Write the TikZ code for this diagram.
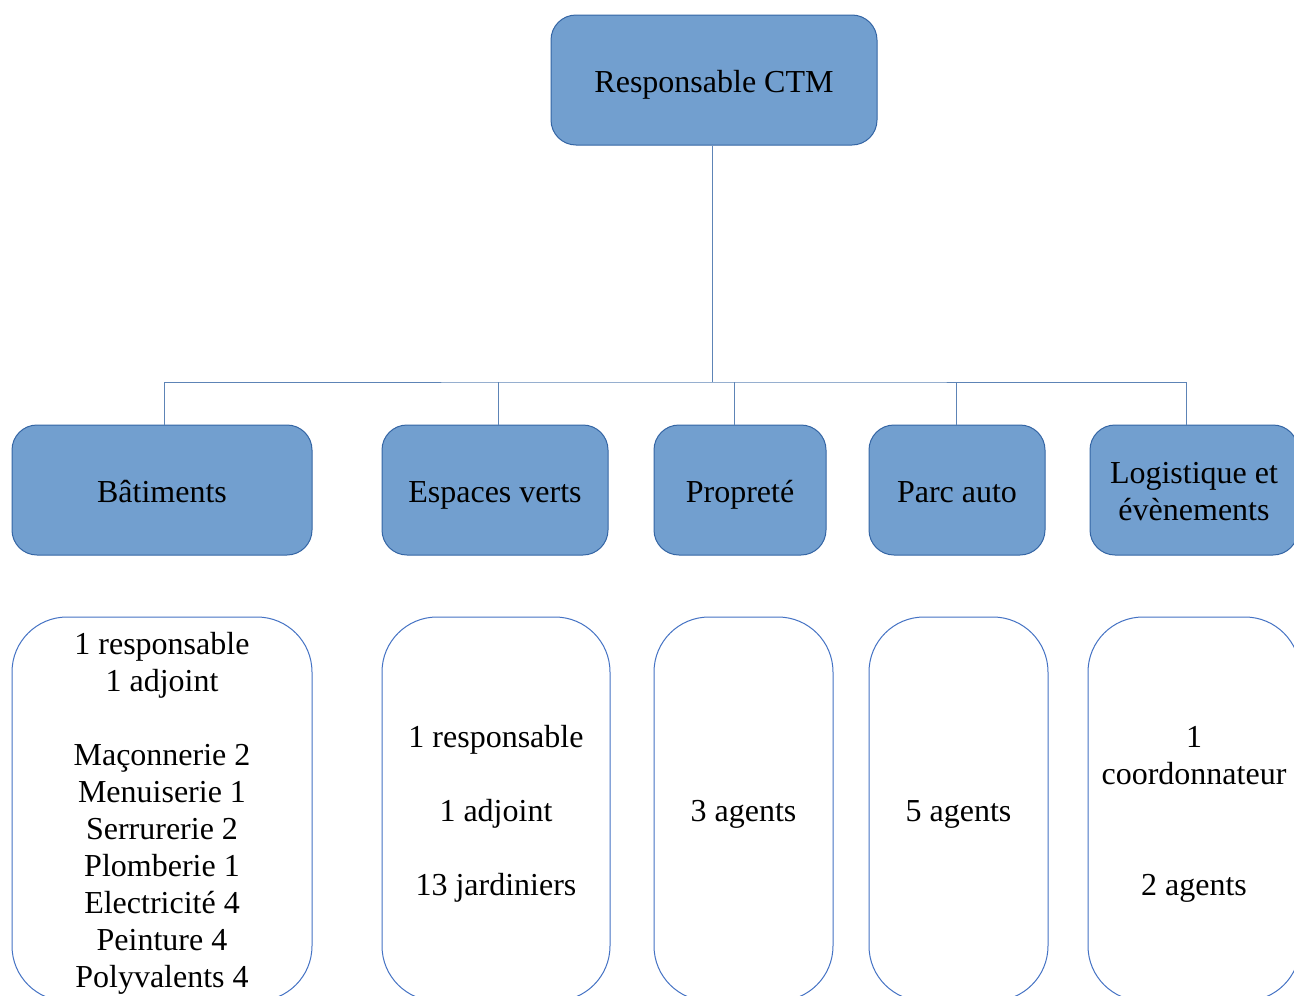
\documentclass[tikz,border=0pt]{standalone}
\usepackage{fontspec}
\setmainfont{Liberation Serif}
\usetikzlibrary{positioning}
\definecolor{boxfill}{HTML}{729FCF}
\definecolor{boxline}{HTML}{3465A4}
\definecolor{staffline}{HTML}{4472C4}
\newcommand{\topstrut}{\rule[-11.1pt]{0pt}{47pt}}
\tikzset{>=latex}
\tikzset{unit/.style={draw=boxline, fill=boxfill, rounded corners=25pt, inner sep=0pt,
    align=center, font=\fontsize{32}{37}\selectfont,
    execute at begin node=\topstrut, execute at end node=\strut}}
\tikzset{staff/.style={draw=staffline, fill=white, rounded corners=55pt, inner sep=0pt,
    align=center, font=\fontsize{32}{37}\selectfont,
    execute at begin node=\topstrut, execute at end node=\strut}}
\tikzset{link/.style={draw=boxline!80, line width=1pt}}

\begin{document}
\begin{tikzpicture}[x=1pt,y=-1pt,line width=1pt]
      \useasboundingbox (0,0) rectangle (1294,996);
      \clip (0,0) rectangle (1294,996);
      % head
      \node[unit, minimum width=326pt, minimum height=130pt] (ctm) at (714,80) {Responsable CTM};
      % services
      \node[unit, minimum width=300pt, minimum height=130pt] (bat) at (162,490) {Bâtiments};
      \node[unit, minimum width=226pt, minimum height=130pt] (esp) at (495,490) {Espaces verts};
      \node[unit, minimum width=172pt, minimum height=130pt] (pro) at (740,490) {Propreté};
      \node[unit, minimum width=176pt, minimum height=130pt] (parc) at (957,490) {Parc auto};
      \node[unit, minimum width=208pt, minimum height=130pt] (log) at (1194,490) {\topstrut Logistique et\\ évènements};
      % staff
      \node[staff, minimum width=300pt, minimum height=384pt] (sbat) at (162,809) {\topstrut 1 responsable\\1 adjoint\\~\\Maçonnerie 2\\Menuiserie 1\\Serrurerie 2\\Plomberie 1\\Electricité 4\\Peinture 4\\Polyvalents 4};
      \node[staff, minimum width=228pt, minimum height=384pt] (sesp) at (496,809) {\topstrut 1 responsable\\~\\1 adjoint\\~\\13 jardiniers};
      \node[staff, minimum width=179pt, minimum height=384pt] (spro) at (743.5,809) {3 agents};
      \node[staff, minimum width=179pt, minimum height=384pt] (sparc) at (958.5,809) {5 agents};
      \node[staff, minimum width=212pt, minimum height=384pt] (slog) at (1194,809) {\topstrut 1\\ coordonnateur\\~\\~\\2 agents};
      % links
      \coordinate (bus) at (712,382);
      \draw[link] (ctm.south -| bus) -- (bus);
      \draw[link] (bat.north -| 164,0) |- (bus) -| (1186,0 |- log.north);
      \draw[link] (esp.north -| 498,0) -- (498,382);
      \draw[link] (pro.north -| 734,0) -- (734,382);
      \draw[link] (parc.north -| 956,0) -- (956,382);
    \end{tikzpicture}
\end{document}
